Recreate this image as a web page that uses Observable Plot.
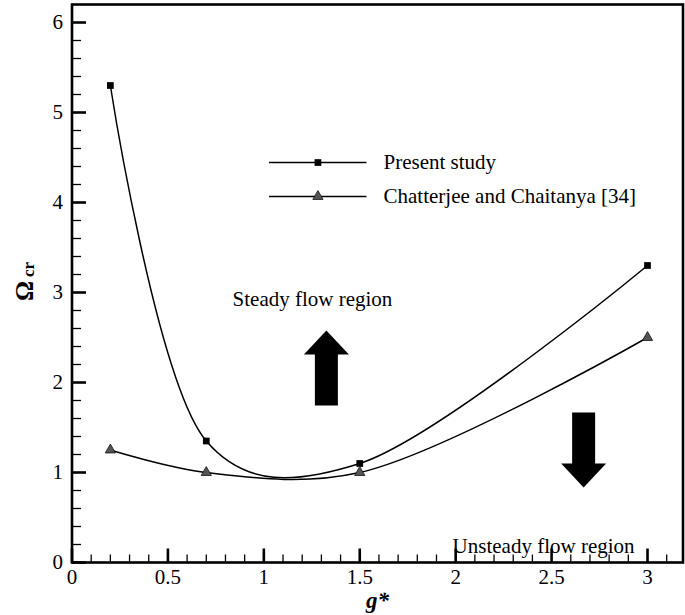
<!DOCTYPE html>
<html><head><meta charset="utf-8">
<script src="https://cdn.jsdelivr.net/npm/d3@7"></script>
<script src="https://cdn.jsdelivr.net/npm/@observablehq/plot@0.6"></script>
<style>
body{margin:0;background:#fff;color:#000}
#chart svg{font-family:"Liberation Serif","Times New Roman",serif;background:#fff}
</style>
</head><body><div id="chart"></div>
<script>
// ---- data ----
const gStar = [0.2, 0.7, 1.5, 3.0];
const presentStudy = [5.3, 1.35, 1.1, 3.3];
const chatterjee = [1.25, 1.0, 1.0, 2.5];
const seriesNames = ["Present study", "Chatterjee and Chaitanya [34]"];
const xMajorTicks = [0, 0.5, 1, 1.5, 2, 2.5, 3];
const xMinorTicks = [0.1,0.2,0.3,0.4,0.6,0.7,0.8,0.9,1.1,1.2,1.3,1.4,1.6,1.7,1.8,1.9,2.1,2.2,2.3,2.4,2.6,2.7,2.8,2.9,3.1];
const yMajorTicks = [0, 1, 2, 3, 4, 5, 6];
const yMinorTicks = [0.2,0.4,0.6,0.8,1.2,1.4,1.6,1.8,2.2,2.4,2.6,2.8,3.2,3.4,3.6,3.8,4.2,4.4,4.6,4.8,5.2,5.4,5.6,5.8];
const regionLabels = ["Steady flow region", "Unsteady flow region"];
const xTitle = "g*";
const yTitle = ["Ω", "cr"];

// ---- layout ----
const W = 685, H = 615, mL = 71.5, mR = 2.5, mT = 4, mB = 53;
const xDomain = [0, 3.185], yDomain = [0, 6.2];
const pxPerX = (W - mL - mR) / (xDomain[1] - xDomain[0]);
const pxPerY = (H - mT - mB) / (yDomain[1] - yDomain[0]);

// ---- tables built from the arrays ----
const rows = [
  ...gStar.map((g, i) => ({series: seriesNames[0], g, w: presentStudy[i]})),
  ...gStar.map((g, i) => ({series: seriesNames[1], g, w: chatterjee[i]}))
];
const present = rows.filter(d => d.series === seriesNames[0]);
const chat = rows.filter(d => d.series === seriesNames[1]);
const xTickRows = (arr, len) => arr.map(v => ({v, y1: yDomain[0], y2: yDomain[0] + len / pxPerY}));
const yTickRows = (arr, len) => arr.map(v => ({v, x1: xDomain[0], x2: xDomain[0] + len / pxPerX}));

// annotation layout (data units)
const legendX1 = 1.027, legendX2 = 1.535, legendXm = 1.282, legendTx = 1.624;
const legendY = [4.444, 4.067];
const legendRows = seriesNames.map((s, i) => ({series: s, y: legendY[i]}));
const regionPos = [{label: regionLabels[0], x: 0.837, y: 2.93}, {label: regionLabels[1], x: 1.984, y: 0.18}];
const arrows = [{x: 1.326, y: 1.744, rotate: 0}, {x: 2.667, y: 1.667, rotate: 180}];

const blockArrow = {
  draw(ctx, l) {
    const w = 11.5, h = 22.5, hl = 24;
    ctx.moveTo(-w, 0);
    ctx.lineTo(-w, -(l - hl));
    ctx.lineTo(-h, -(l - hl));
    ctx.lineTo(0, -l);
    ctx.lineTo(h, -(l - hl));
    ctx.lineTo(w, -(l - hl));
    ctx.lineTo(w, 0);
    ctx.closePath();
  }
};

const triFill = "#555";

const chart = Plot.plot({
  width: W,
  height: H,
  marginLeft: mL,
  marginRight: mR,
  marginTop: mT,
  marginBottom: mB,
  x: {domain: xDomain},
  y: {domain: yDomain},
  marks: [
    Plot.frame({fill: "none", stroke: "#000", strokeWidth: 2.6}),
    // tick labels
    Plot.axisX({ticks: xMajorTicks, tickFormat: d => String(d), tickSize: 0, tickPadding: 7, fontSize: 21, label: null}),
    Plot.axisY({ticks: yMajorTicks, tickFormat: d => String(d), tickSize: 0, tickPadding: 9, fontSize: 21, label: null}),
    // series
    Plot.line(present, {x: "g", y: "w", curve: "catmull-rom", tension: 0.25, stroke: "#000", strokeWidth: 1.5}),
    Plot.line(chat, {x: "g", y: "w", curve: "catmull-rom", stroke: "#000", strokeWidth: 1.5}),
    Plot.dot(present, {x: "g", y: "w", symbol: "square", r: 3.8, fill: "#000", stroke: "none"}),
    Plot.dot(chat, {x: "g", y: "w", symbol: "triangle", r: 3.8, fill: triFill, stroke: "#111", strokeWidth: 0.8}),
    // legend
    Plot.link(legendRows, {x1: legendX1, x2: legendX2, y1: "y", y2: "y", stroke: "#000", strokeWidth: 1.5}),
    Plot.dot(legendRows.slice(0, 1), {x: legendXm, y: "y", symbol: "square", r: 3.8, fill: "#000", stroke: "none"}),
    Plot.dot(legendRows.slice(1), {x: legendXm, y: "y", symbol: "triangle", r: 3.8, fill: triFill, stroke: "#111", strokeWidth: 0.8}),
    Plot.text(legendRows, {x: legendTx, y: "y", text: "series", textAnchor: "start", fontSize: 21, fill: "#000"}),
    // region labels
    Plot.text(regionPos, {x: "x", y: "y", text: "label", textAnchor: "start", fontSize: 21, fill: "#000"}),
    // arrows
    Plot.vector(arrows, {x: "x", y: "y", rotate: "rotate", length: 75, anchor: "start", shape: blockArrow, fill: "#000", stroke: "none"}),
    // axis titles
    Plot.text([xTitle], {frameAnchor: "bottom", dy: 45, fontSize: 23, fontWeight: "bold", fontStyle: "italic", fill: "#000"}),
    Plot.text([yTitle[0]], {frameAnchor: "left", dx: -47, dy: 17.5, rotate: -90, fontSize: 25, fontWeight: "bold", fill: "#000"}),
    Plot.text([yTitle[1]], {frameAnchor: "left", dx: -43, dy: -6.5, rotate: -90, fontSize: 17, fontWeight: "bold", fill: "#000"}),
    // inward ticks, drawn last
    Plot.link(xTickRows(xMinorTicks, 8), {x1: "v", x2: "v", y1: "y1", y2: "y2", stroke: "#000", strokeWidth: 1.3}),
    Plot.link(xTickRows(xMajorTicks, 14), {x1: "v", x2: "v", y1: "y1", y2: "y2", stroke: "#000", strokeWidth: 2.6}),
    Plot.link(yTickRows(yMinorTicks, 9), {y1: "v", y2: "v", x1: "x1", x2: "x2", stroke: "#000", strokeWidth: 1.3}),
    Plot.link(yTickRows(yMajorTicks, 14), {y1: "v", y2: "v", x1: "x1", x2: "x2", stroke: "#000", strokeWidth: 2.6})
  ]
});
document.getElementById("chart").appendChild(chart);
</script>
</body></html>
